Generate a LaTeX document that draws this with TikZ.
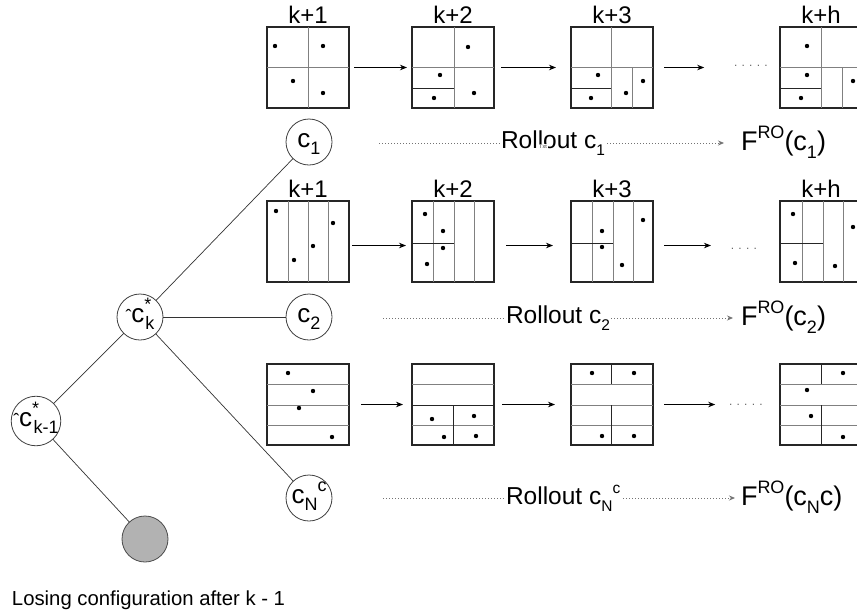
\documentclass[tikz,border=0pt]{standalone}
\usepackage{fontspec}
\setmainfont{Liberation Sans}
\usetikzlibrary{arrows.meta}

% size of lowered / raised text, set by each text style
\def\subsz{14}
% lowered / raised small text
\newcommand\lowtx[1]{\raisebox{-0.3em}{\fontsize{\subsz}{\subsz}\selectfont #1}}
\newcommand\hightx[1]{\raisebox{0.43em}{\fontsize{\subsz}{\subsz}\selectfont #1}}
% small filled points inside a grid (local coordinates)
\newcommand\seeds[1]{\foreach \p in {#1} \fill \p circle[radius=2.2pt];}
% a row of dots
\newcommand\dotrun[1]{\foreach \i in {1,...,#1}{.\hspace{4.2pt}}\hspace{-4.2pt}}

\begin{document}
\begin{tikzpicture}[x=1pt, y=-1pt,
  every node/.style={inner sep=0pt, outer sep=0pt},
  labtxt/.style={font={\fontsize{24}{28}\selectfont}},
  rolltxt/.style={font={\fontsize{24.5}{28}\selectfont\def\subsz{15.5}}},
  ftxt/.style={font={\fontsize{27}{30}\selectfont\def\subsz{18}}},
  ctxt/.style={font={\fontsize{26}{30}\selectfont\def\subsz{18}}},
  grid/.style={draw=black!85, line width=1.1pt, minimum width=82pt, minimum height=81pt, anchor=north west},
  full/.style={draw=black!50, line width=0.9pt},
  part/.style={draw=black!85, line width=0.9pt},
  steplab/.style={labtxt, anchor=base},
  arr/.style={draw=black, line width=0.8pt, -{Stealth[length=7pt,width=5.5pt]}},
  roll/.style={draw=black!55, line width=0.8pt, dash pattern=on 1.3pt off 1.7pt, -{Stealth[length=6pt,width=5pt]}},
  cnode/.style={circle, draw=black!75, line width=0.8pt, fill=white, minimum size=46pt, ctxt, text height=15pt, text depth=5pt},
  tree/.style={draw=black!80, line width=0.7pt},
  dotsn/.style={font=\fontsize{12}{12}\selectfont, text=black!60, anchor=base},
  rlab/.style={rolltxt, fill=white, anchor=base west, inner xsep=1pt, inner ysep=2pt},
  txtmark/.style={font=\fontsize{5.5}{6}\selectfont, fill=white, inner sep=0.8pt, text=black!80},
]
\clip (0,0) rectangle (857,614);
\fill[white] (0,0) rectangle (857,614);

% ---------- first sequence of grids ----------
\node[grid] (b11) at (267,27) {};
\node[grid] (b12) at (412,27) {};
\node[grid] (b13) at (571,27) {};
\node[grid] (b14) at (780,27) {};
\begin{scope}[shift={(b11.north west)}]
  \draw[full] (41,0) -- (41,81) (0,40) -- (82,40);
  \seeds{(8,19),(56,19),(26,54),(56,66)}
\end{scope}
\begin{scope}[shift={(b12.north west)}]
  \draw[full] (42,0) -- (42,81) (0,40) -- (82,40);
  \draw[part] (0,61) -- (42,61);
  \seeds{(56,20),(28,48),(22,71),(62,66)}
\end{scope}
\begin{scope}[shift={(b13.north west)}]
  \draw[full] (40,0) -- (40,81) (0,40) -- (82,40) (61,40) -- (61,81);
  \draw[part] (0,61) -- (40,61);
  \seeds{(27,48),(20,71),(55,66),(72,54)}
\end{scope}
\begin{scope}[shift={(b14.north west)}]
  \draw[full] (41,0) -- (41,81) (0,40) -- (82,40) (62,40) -- (62,81);
  \draw[part] (0,61) -- (41,61);
  \seeds{(27,19),(27,48),(21,71),(73,54)}
\end{scope}
\node[steplab] (l11) at ([yshift=4pt]b11.north) {k+1};
\node[steplab] (l12) at ([yshift=4pt]b12.north) {k+2};
\node[steplab] (l13) at ([yshift=4pt]b13.north) {k+3};
\node[steplab] (l14) at ([yshift=4pt]b14.north) {k+h};
\node[dotsn] (e1) at (753,66.5) {\dotrun{5}};
\draw[arr, shorten <=5pt, shorten >=5pt] (b11.east) -- (b12.west);
\draw[arr, shorten <=7pt, shorten >=15pt] (b12.east) -- (b13.west);
\draw[arr, shorten <=11pt, shorten >=30pt] (b13.east) -- (b13.east -| e1.west);

% ---------- second sequence of grids ----------
\node[grid] (b21) at (267,201) {};
\node[grid] (b22) at (412,201) {};
\node[grid] (b23) at (571,201) {};
\node[grid] (b24) at (780,201) {};
\begin{scope}[shift={(b21.north west)}]
  \draw[full] (21,0) -- (21,81) (41,0) -- (41,81) (61,0) -- (61,81);
  \seeds{(9,10),(27,59),(46,45),(66,22)}
\end{scope}
\begin{scope}[shift={(b22.north west)}]
  \draw[full] (21,0) -- (21,81) (42,0) -- (42,81) (62,0) -- (62,81);
  \draw[part] (0,42) -- (42,42);
  \seeds{(13,13),(31,30),(31,47),(15,63)}
\end{scope}
\begin{scope}[shift={(b23.north west)}]
  \draw[full] (21,0) -- (21,81) (42,0) -- (42,81) (62,0) -- (62,81);
  \draw[part] (0,42) -- (42,42);
  \seeds{(31,30),(31,46),(51,64),(72,19)}
\end{scope}
\begin{scope}[shift={(b24.north west)}]
  \draw[full] (22,0) -- (22,81) (43,0) -- (43,81) (63,0) -- (63,81);
  \draw[part] (0,42) -- (43,42);
  \seeds{(13,13),(15,62),(55,65),(73,26)}
\end{scope}
\node[steplab] (l21) at ([yshift=4pt]b21.north) {k+1};
\node[steplab] (l22) at ([yshift=4pt]b22.north) {k+2};
\node[steplab] (l23) at ([yshift=4pt]b23.north) {k+3};
\node[steplab] (l24) at ([yshift=4pt]b24.north) {k+h};
\node[dotsn] (e2) at (746,249.5) {\dotrun{4}};
\draw[arr, shorten <=3pt, shorten >=6pt] ([yshift=-4pt]b21.east) -- ([yshift=-4pt]b22.west);
\draw[arr, shorten <=12pt, shorten >=18pt] ([yshift=-4pt]b22.east) -- ([yshift=-4pt]b23.west);
\draw[arr, shorten <=11pt, shorten >=20pt] ([yshift=-4pt]b23.east) -- ([yshift=-4pt]b23.east -| e2.west);

% ---------- third sequence of grids ----------
\node[grid] (b31) at (267,364) {};
\node[grid] (b32) at (412,364) {};
\node[grid] (b33) at (571,364) {};
\node[grid] (b34) at (780,364) {};
\begin{scope}[shift={(b31.north west)}]
  \draw[full] (0,20) -- (82,20) (0,41) -- (82,41) (0,61) -- (82,61);
  \seeds{(21,9),(46,27),(32,44),(65,73)}
\end{scope}
\begin{scope}[shift={(b32.north west)}]
  \draw[full] (0,20) -- (82,20) (0,61) -- (82,61);
  \draw[part] (0,41) -- (82,41) (41,41) -- (41,81);
  \seeds{(20,55),(62,52),(32,73),(64,72)}
\end{scope}
\begin{scope}[shift={(b33.north west)}]
  \draw[full] (0,20) -- (82,20) (0,41) -- (82,41) (0,61) -- (82,61);
  \draw[part] (40,0) -- (40,20) (40,41) -- (40,81);
  \seeds{(21,9),(63,9),(31,72),(63,72)}
\end{scope}
\begin{scope}[shift={(b34.north west)}]
  \draw[full] (0,20) -- (82,20) (0,41) -- (82,41) (0,61) -- (82,61);
  \draw[part] (41,0) -- (41,20) (41,41) -- (41,81);
  \seeds{(63,9),(27,26),(31,52),(63,73)}
\end{scope}
\node[dotsn] (e3) at (748,405.5) {\dotrun{5}};
\draw[arr, shorten <=12pt, shorten >=9pt] (b31.east) -- (b32.west);
\draw[arr, shorten <=8pt, shorten >=16pt] (b32.east) -- (b33.west);
\draw[arr, shorten <=11pt, shorten >=14pt] (b33.east) -- (b33.east -| e3.west);

% ---------- search tree ----------
\node[cnode, minimum size=48pt] (ck1) at (36,421) {{\fontsize{18}{18}\selectfont ˆ}c\rlap{\hightx{*}}\lowtx{\hspace{1.5pt}k-1}};
\node[cnode] (ck) at (140,317) {{\fontsize{18}{18}\selectfont ˆ}c\rlap{\hightx{*}}\lowtx{\hspace{1pt}k}};
\node[cnode] (c1) at (309,142) {c\lowtx{1}};
\node[cnode] (c2) at (309,317) {c\lowtx{2}};
\node[cnode] (cn) at (309,498) {c\lowtx{N}\hightx{c}};
\node[circle, draw=black!70, fill=black!30, line width=0.8pt, minimum size=46pt] (lose) at (145,539) {};
\draw[tree] (ck1) -- (ck);
\draw[tree] (ck1) -- (lose);
\draw[tree] (ck) -- (c1);
\draw[tree] (ck) -- (c2);
\draw[tree] (ck) -- (cn);
\node[font=\fontsize{20.3}{24}\selectfont, anchor=base west] (lt) at (12,605) {Losing configuration after k - 1};

% ---------- rollouts ----------
\coordinate (s1) at (379,143);
\node[ftxt, anchor=base west] (f1) at (741,150) {F\hightx{RO}(c\lowtx{1})};
\draw[roll, shorten >=17pt] (s1) -- (s1 -| f1.west);
\node[rlab] (r1) at (500,148) {Rollout c\lowtx{1}};
\node[txtmark] (tx) at (543,147) {Txt};

\coordinate (s2) at (383,318);
\node[ftxt, anchor=base west] (f2) at (741,325) {F\hightx{RO}(c\lowtx{2})};
\draw[roll, shorten >=8pt] (s2) -- (s2 -| f2.west);
\node[rlab] (r2) at (505,323) {Rollout c\lowtx{2}};

\coordinate (s3) at (383,498);
\node[ftxt, anchor=base west] (f3) at (741,505) {F\hightx{RO}(c\lowtx{N}c)};
\draw[roll, shorten >=6pt] (s3) -- (s3 -| f3.west);
\node[rlab] (r3) at (505,504) {Rollout c\lowtx{N}\hightx{c}};
\end{tikzpicture}
\end{document}
